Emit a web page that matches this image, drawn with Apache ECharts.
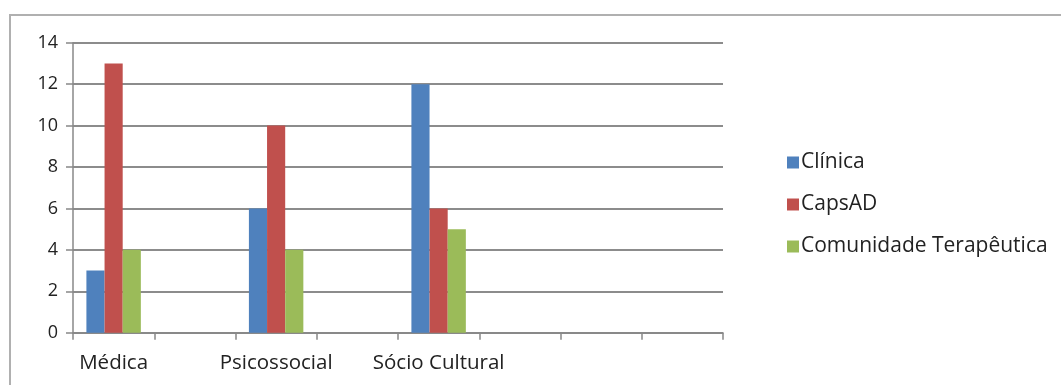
<!DOCTYPE html>
<html><head><meta charset="utf-8">
<script src="https://cdn.jsdelivr.net/npm/echarts@6/dist/echarts.min.js"></script>
<style>html,body{margin:0;padding:0;background:#fff}#c{width:1061px;height:385px}</style>
</head><body><div id="c"></div>
<script>
const categories = ['Médica', '', 'Psicossocial', '', 'Sócio Cultural', '', '', ''];
const clinica = [3, null, 6, null, 12, null, null, null];
const capsAD = [13, null, 10, null, 6, null, null, null];
const comunidade = [4, null, 4, null, 5, null, null, null];
const seriesNames = ['Clínica', 'CapsAD', 'Comunidade Terapêutica'];
const colors = ['#4F81BD', '#C0504D', '#9BBB59'];

const chart = echarts.init(document.getElementById('c'));
const font = '"Open Sans", Lato, sans-serif';
chart.setOption({
  animation: false,
  textStyle: { fontFamily: font },
  graphic: [{
    type: 'rect', silent: true,
    shape: { x: 10, y: 15, width: 1200, height: 500 },
    style: { fill: 'none', stroke: '#b0b0b0', lineWidth: 2 }
  }],
  grid: { left: 73, right: 338, top: 42.7, bottom: 52.3 },
  legend: {
    orient: 'vertical', left: 782, top: 144, itemWidth: 12, itemHeight: 12, itemGap: 15,
    icon: 'rect',
    textStyle: { fontSize: 21, lineHeight: 27, color: '#222', fontFamily: font, padding: [0, 0, 0, -3] },
    data: seriesNames
  },
  xAxis: {
    type: 'category', data: categories,
    axisLine: { lineStyle: { color: '#888', width: 1.5 } },
    axisTick: { show: true, length: 7, interval: 0, lineStyle: { color: '#888', width: 1.5 } },
    axisLabel: { interval: 0, fontSize: 20.5, color: '#222', margin: 20, fontFamily: font }
  },
  yAxis: {
    type: 'value', min: 0, max: 14, interval: 2,
    axisLine: { show: true, lineStyle: { color: '#888', width: 1.5 } },
    axisTick: { show: true, length: 7, lineStyle: { color: '#888', width: 1.5 } },
    axisLabel: { fontSize: 18, color: '#222', margin: 15, fontFamily: font },
    splitLine: { lineStyle: { color: '#8c8c8c', width: 1.8 } }
  },
  series: [
    { name: seriesNames[0], type: 'bar', data: clinica, itemStyle: { color: colors[0] }, barGap: '0%', barCategoryGap: '33%' },
    { name: seriesNames[1], type: 'bar', data: capsAD, itemStyle: { color: colors[1] }, barGap: '0%', barCategoryGap: '33%' },
    { name: seriesNames[2], type: 'bar', data: comunidade, itemStyle: { color: colors[2] }, barGap: '0%', barCategoryGap: '33%' }
  ]
});
</script></body></html>
